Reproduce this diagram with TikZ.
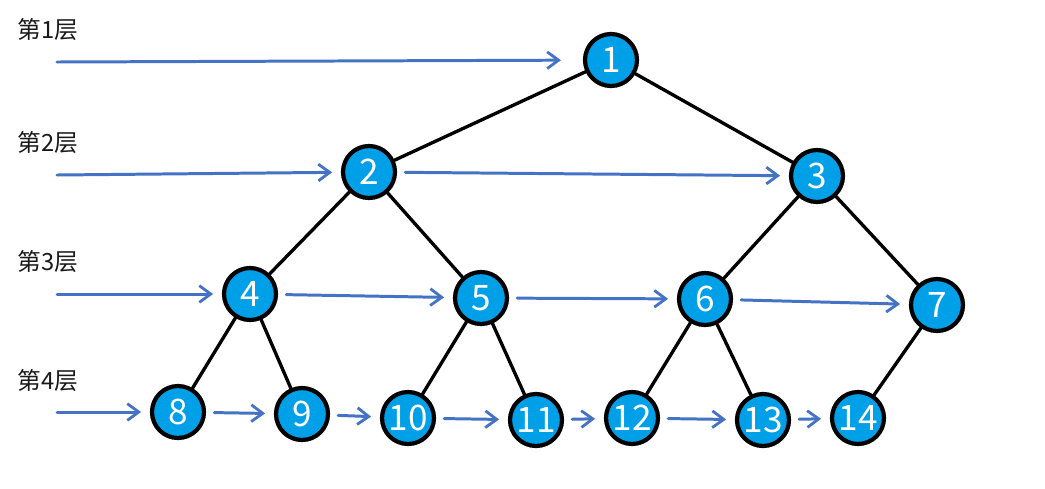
\documentclass[tikz,border=0pt]{standalone}
\usepackage{fontspec}
\setmainfont{Noto Sans CJK SC}
\usetikzlibrary{arrows.meta}
\definecolor{nodeblue}{HTML}{00A0E9}
\definecolor{arrblue}{HTML}{4472C4}
\begin{document}
\begin{tikzpicture}[
	x=0.02cm, y=-0.02cm,
	line join=round,
	line cap=round,
	>={Straight Barb[length=6.5pt,width=9.5pt,line width=1.6pt]},
	tnode/.style={circle, draw=black, line width=2.4pt, fill=nodeblue,
		minimum size=1.04cm, inner sep=0pt, text=white,
		font=\fontsize{20}{20}\selectfont},
	edge/.style={line width=1.9pt, black},
	arr/.style={->, line width=1.7pt, arrblue, shorten <=4.6pt, shorten >=5pt},
	level/.style={anchor=west, inner sep=0pt, text=black!90, font=\fontsize{13.5}{15}\selectfont}
	]
	
	% Khung
	\useasboundingbox (0,0) rectangle (1045,488);
	
	% Các nút
	\node[tnode] (n1) at (611,60) {1};
	\node[tnode] (n2) at (369,172) {2};
	\node[tnode] (n3) at (817,176) {3};
	\node[tnode] (n4) at (250,294) {4};
	\node[tnode] (n5) at (481,298) {5};
	\node[tnode] (n6) at (705,299) {6};
	\node[tnode] (n7) at (937,305) {7};
	\node[tnode] (n8) at (178,412) {8};
	\node[tnode] (n9) at (302,414) {9};
	\node[tnode] (n10) at (408,418) {10};
	\node[tnode] (n11) at (536,420) {11};
	\node[tnode] (n12) at (632,418) {12};
	\node[tnode] (n13) at (763,420) {13};
	\node[tnode] (n14) at (858,418) {14};
	
	% Cạnh của cây
	\foreach \a/\b in {1/2,1/3,2/4,2/5,3/6,3/7,4/8,4/9,5/10,5/11,6/12,6/13,7/14}
	{
		\draw[edge] (n\a) -- (n\b);
	}
	
	% Nhãn tầng
	\node[level] (l1) at (17,30) {第1层};
	\node[level] (l2) at (17,143) {第2层};
	\node[level] (l3) at (17,262) {第3层};
	\node[level] (l4) at (17,381) {第4层};
	
	% Điểm bắt đầu
	\coordinate (s1) at (57,62);
	\coordinate (s2) at (57,175);
	\coordinate (s3) at (57,294);
	\coordinate (s4) at (57,412);
	
	% Mũi tên theo tầng
	\draw[arr, shorten <=0pt, shorten >=12.5pt] (s1) -- (n1);
	\draw[arr, shorten <=0pt] (s2) -- (n2);
	\draw[arr, shorten <=0pt] (s3) -- (n4);
	\draw[arr, shorten <=0pt] (s4) -- (n8);
	\foreach \a/\b in {2/3,4/5,5/6,6/7,8/9,9/10,10/11,11/12,12/13,13/14}
	{
		\draw[arr] (n\a) -- (n\b);
	}
	
\end{tikzpicture}
\end{document}
